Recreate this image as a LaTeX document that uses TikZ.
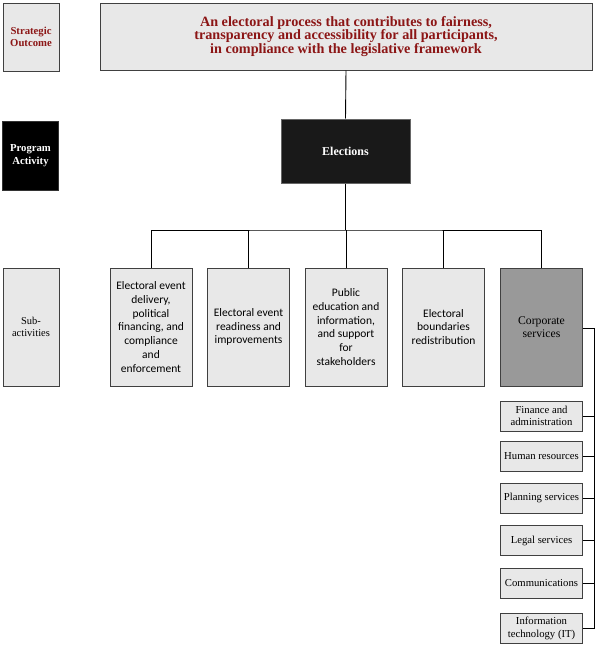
\documentclass[tikz,border=0pt]{standalone}
\usepackage{fontspec}
\setmainfont{Liberation Serif}
\newfontfamily\calibri{Carlito}
\begin{document}
\begin{tikzpicture}[x=1pt,y=-1pt,
  box/.style={draw=black!75,line width=1pt,fill=black!9,inner sep=0pt,align=center},
  lbl/.style={box,minimum width=56pt,font=\bfseries\fontsize{10.7}{12.5}\selectfont},
  sub/.style={box,minimum width=82pt,minimum height=118pt,font=\calibri\fontsize{11.5}{13.8}\selectfont},
  small/.style={box,minimum width=82pt,minimum height=30pt,font=\fontsize{10.7}{12.5}\selectfont},
  conn/.style={draw=black,line width=0.9pt}]
\useasboundingbox (0,0) rectangle (595,648);
\definecolor{dred}{RGB}{140,22,22}
% left labels
\node[lbl,minimum height=68pt,text=dred] (so) at (31,37) {Strategic\\Outcome};
\node[lbl,minimum height=69pt,fill=black,draw=black!80,text=white] (pa) at (30.5,155.5) {Program\\Activity};
\node[box,minimum width=56pt,minimum height=118pt,font=\fontsize{10.5}{12.5}\selectfont] (sa) at (31,327) {Sub-\\activities};
% top
\node[box,minimum width=492pt,minimum height=67pt,text=dred,font=\bfseries\fontsize{14.2}{13.8}\selectfont] (top) at (346,36.5) {An electoral process that contributes to fairness,\\transparency and accessibility for all participants,\\in compliance with the legislative framework};
\node[box,minimum width=129pt,minimum height=64pt,fill=black!90,draw=black!60,text=white,font=\bfseries\fontsize{12}{14}\selectfont] (el) at (345.5,151) {Elections};
% subs
\node[sub] (s1) at (151,327) {Electoral event\\delivery,\\political\\financing, and\\compliance\\and\\enforcement};
\node[sub] (s2) at (248.5,327) {Electoral event\\readiness and\\improvements};
\node[sub] (s3) at (346,327) {Public\\education and\\information,\\and support\\for\\stakeholders};
\node[sub] (s4) at (443.5,327) {Electoral\\boundaries\\redistribution};
\node[sub,fill=black!40,font=\fontsize{11.7}{13.5}\selectfont] (s5) at (541.5,327) {Corporate\\services};
% connectors
\draw[conn] (top.south) -- (el.north);
\coordinate (bar) at (345.5,230);
\draw[conn] (el.south) -- (bar);
\draw[conn] (s1.north) |- (bar) -| (s5.north);
\draw[conn] (s2.north) -- (s2.north |- bar);
\draw[conn] (s3.north) -- (s3.north |- bar);
\draw[conn] (s4.north) -- (s4.north |- bar);
% corporate children
\node[small] (c1) at (541.5,416) {Finance and\\administration};
\node[small] (c2) at (541.5,456.5) {Human resources};
\node[small] (c3) at (541.5,498) {Planning services};
\node[small] (c4) at (541.5,540.5) {Legal services};
\node[small] (c5) at (541.5,583.5) {Communications};
\node[small] (c6) at (541.5,628.5) {Information\\technology (IT)};
\coordinate (rt) at (594,328);
\coordinate (rb) at (594,628.5);
\draw[conn] (s5.east |- rt) -- (rt) -- (rb) -- (c6.east);
\foreach \c in {c1,c2,c3,c4,c5} \draw[conn] (\c.east) -- (\c.east -| rt);
\end{tikzpicture}
\end{document}
